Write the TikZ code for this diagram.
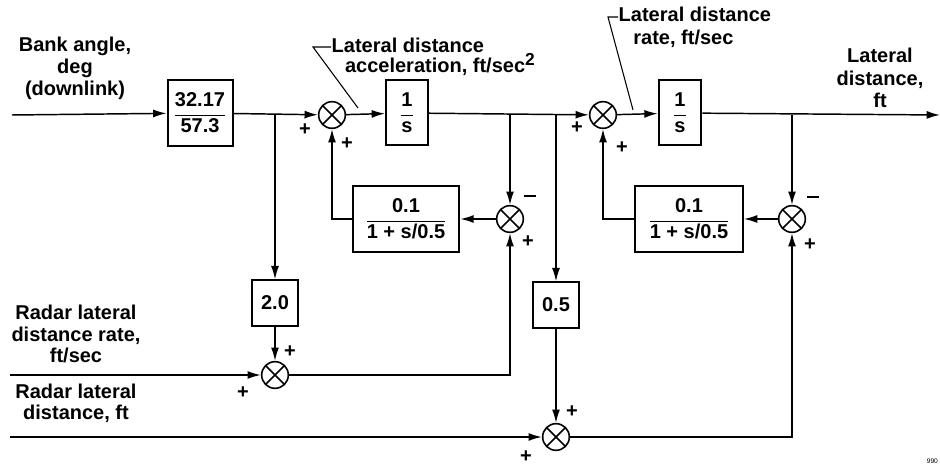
\documentclass[tikz,border=0pt]{standalone}
\usepackage{amsmath}
\usepackage{fontspec}
\setmainfont{Liberation Sans}
\usepackage{tikz}
\usetikzlibrary{arrows.meta}

\tikzset{
  blk/.style={draw, line width=1.5pt, inner sep=2pt},
  sum/.style={draw, circle, line width=1.2pt, minimum size=20pt, inner sep=0pt,
    path picture={\draw[line width=1.1pt]
      (path picture bounding box.north west) -- (path picture bounding box.south east)
      (path picture bounding box.north east) -- (path picture bounding box.south west);}},
  sgn/.style={inner sep=0pt},
  lbl/.style={align=center, inner sep=0pt},
  >={Latex[length=10pt,width=6pt]}
}
\newcommand{\blkfrac}[2]{$\dfrac{\text{#1}}{\text{#2}}$}
\newcommand{\mns}{\rule{8.5pt}{1.5pt}}

\begin{document}
\begin{tikzpicture}[x=0.75pt,y=-0.75pt,line width=1.1pt,
  font=\bfseries\fontsize{15}{16}\selectfont]
\useasboundingbox (0,0) rectangle (940,466);

% blocks
\node[blk,minimum width=48.75pt,minimum height=49.5pt] (g1) at (200,113) {\blkfrac{32.17}{57.3}};
\node[sum] (s1) at (332,115) {};
\node[blk,minimum width=31.5pt,minimum height=48.75pt] (i1) at (407,113) {\blkfrac{1}{s}};
\node[sum] (s3) at (603,115) {};
\node[blk,minimum width=32pt,minimum height=48.75pt] (i2) at (680,113) {\blkfrac{1}{s}};
\node[blk,minimum width=80pt,minimum height=49.5pt] (f1) at (406,219) {\blkfrac{0.1}{1 + s/0.5}};
\node[sum] (s2) at (510,219) {};
\node[blk,minimum width=81pt,minimum height=49.5pt] (f2) at (689,219) {\blkfrac{0.1}{1 + s/0.5}};
\node[sum] (s4) at (792,219) {};
\node[blk,minimum width=34pt,minimum height=34pt] (k1) at (275,303) {2.0};
\node[sum] (s5) at (275,375) {};
\node[blk,minimum width=34pt,minimum height=34pt] (k2) at (556,305) {0.5};
\node[sum] (s6) at (556,437) {};

\coordinate (in1) at (12,115);
\coordinate (b1) at (275,115);
\coordinate (b2) at (510,115);
\coordinate (b3) at (556,115);
\coordinate (b4) at (792,115);
\coordinate (out) at (940,115);
\coordinate (r1) at (10,375);
\coordinate (r2) at (10,437);

% connectors
\draw[->] (in1) -- (g1);
\draw[->] (g1) -- (s1);
\draw[->] (s1) -- (i1);
\draw[->] (i1) -- (s3);
\draw[->] (s3) -- (i2);
\draw[->] (i2) -- (out);
\draw[->] (b1) -- (k1);
\draw[->] (k1) -- (s5);
\draw[->] (r1) -- (s5);
\draw[->] (s5) -| (s2);
\draw[->] (b2) -- (s2);
\draw[->] (s2) -- (f1);
\draw[->] (f1) -| (s1);
\draw[->] (b3) -- (k2);
\draw[->] (k2) -- (s6);
\draw[->] (r2) -- (s6);
\draw[->] (s6) -| (s4);
\draw[->] (b4) -- (s4);
\draw[->] (s4) -- (f2);
\draw[->] (f2) -| (s3);

% signs
\node[sgn] (p1) at (305,130) {+};
\node[sgn] (p2) at (347,144) {+};
\node[sgn] (m1) at (530,196) {\mns};
\node[sgn] (p3) at (528,242) {+};
\node[sgn] (p4) at (577,128) {+};
\node[sgn] (p5) at (622,148) {+};
\node[sgn] (m2) at (813,197) {\mns};
\node[sgn] (p6) at (810,245) {+};
\node[sgn] (p7) at (290,352) {+};
\node[sgn] (p8) at (243,393) {+};
\node[sgn] (p9) at (572,412) {+};
\node[sgn] (p10) at (526,457) {+};

% labels
\node[lbl,font=\bfseries\fontsize{15}{16.5}\selectfont] (bank) at (75,68) {Bank angle,\\deg\\(downlink)};
\node[lbl,font=\bfseries\fontsize{15}{16}\selectfont] (rrate) at (76,334) {Radar lateral\\distance rate,\\ft/sec};
\node[lbl,font=\bfseries\fontsize{15}{16}\selectfont] (rdist) at (76,403) {Radar lateral\\distance, ft};
\node[lbl,font=\bfseries\fontsize{15}{17}\selectfont] (yout) at (880,78) {Lateral\\distance,\\ft};

\node[anchor=north west,align=left,inner sep=0pt,font=\bfseries\fontsize{15}{13}\selectfont]
  (acc) at (331,37) {Lateral distance\\\hspace*{10pt}acceleration, ft/sec\textsuperscript{\fontsize{13}{13}\selectfont 2}};
\coordinate (acc1) at (358,108);
\coordinate (acc2) at (313,47);
\draw[line width=0.8pt] (acc1) -- (acc2) -- (acc2 -| acc.west);

\node[anchor=north west,align=left,inner sep=0pt,font=\bfseries\fontsize{15}{17.5}\selectfont]
  (rate) at (618,6) {Lateral distance\\\hspace*{11pt}rate, ft/sec};
\coordinate (rate1) at (633,110);
\coordinate (rate2) at (608,17);
\draw[line width=0.8pt] (rate1) -- (rate2) -- (rate2 -| rate.west);

\node[anchor=south east,inner sep=1pt,font=\tiny] (fig) at (940,466) {990};
\end{tikzpicture}
\end{document}
